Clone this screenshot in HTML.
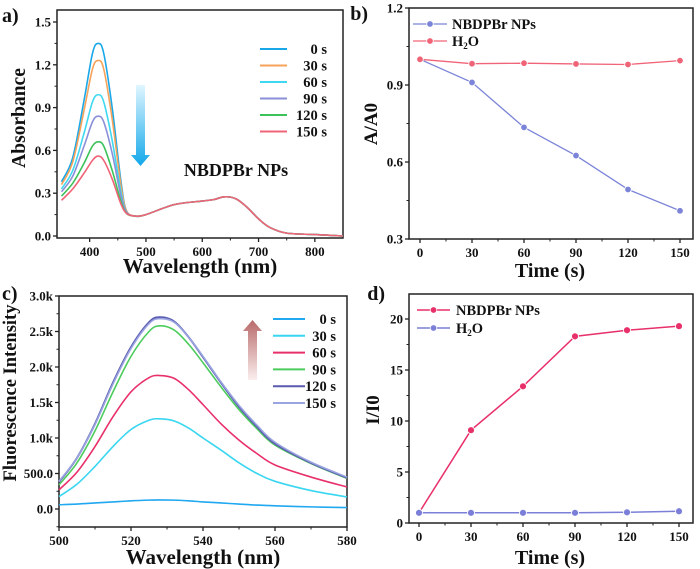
<!DOCTYPE html>
<html><head><meta charset="utf-8"><style>
body{margin:0;background:#fff}
svg{display:block;font-family:"Liberation Serif",serif;font-weight:bold}
</style></head><body>
<svg id="fig" width="700" height="569" viewBox="0 0 700 569"></svg>
<script>
// ---- Panel a data ----
const aWl = [350,370,390,405,415,425,440,455,465,480,500,550,600,620,640,660,680,700,720,750,800,850];
const aTail = [0.14,0.15,0.22,0.245,0.255,0.275,0.26,0.20,0.12,0.06,0.02,0.01,0.00];
const aLabels = ['0 s','30 s','60 s','90 s','120 s','150 s'];
const aColors = ['#1aa7e8','#f5a35a','#3fd8f0','#8a8fd8','#3dc25a','#f06478'];
const aHead0 = [0.38,0.55,0.95,1.28,1.35,1.28,0.90,0.40,0.18];
const aHead30 = [0.36,0.52,0.88,1.17,1.23,1.17,0.82,0.37,0.18];
const aHead60 = [0.33,0.46,0.72,0.94,0.99,0.94,0.67,0.32,0.17];
const aHead90 = [0.31,0.42,0.63,0.80,0.84,0.80,0.58,0.29,0.17];
const aHead120 = [0.28,0.37,0.51,0.63,0.66,0.63,0.46,0.25,0.16];
const aHead150 = [0.25,0.33,0.44,0.53,0.56,0.53,0.40,0.23,0.16];
// ---- Panel b data ----
const bTime = [0,30,60,90,120,150];
const bNP = [1.0,0.91,0.735,0.625,0.493,0.41];
const bH2O = [1.0,0.983,0.985,0.982,0.98,0.995];
// ---- Panel c data ----
const cWl = [500,505,510,515,520,525,528,532,536,540,545,550,555,560,570,580];
const cLabels = ['0 s','30 s','60 s','90 s','120 s','150 s'];
const cColors = ['#20a8f0','#38d6f0','#e8306a','#4ccc5c','#5a5ab0','#9aa4e0'];
const c0 = [60,70,85,100,115,125,128,125,115,100,85,70,55,45,30,20];
const c30 = [175,350,600,880,1120,1250,1270,1240,1140,1000,830,650,500,390,260,170];
const c60 = [270,520,880,1300,1650,1850,1880,1840,1680,1470,1200,970,780,620,450,310];
const c90 = [340,650,1100,1650,2150,2500,2580,2520,2320,2060,1720,1400,1130,900,640,430];
const c120 = [380,720,1200,1780,2280,2630,2700,2640,2420,2140,1780,1440,1160,920,650,440];
const c150 = [390,720,1190,1760,2260,2610,2680,2630,2420,2150,1790,1460,1180,940,660,450];
// ---- Panel d data ----
const dTime = [0,30,60,90,120,150];
const dNP = [1,9.1,13.4,18.3,18.9,19.3];
const dH2O = [1,1,1,1,1.05,1.15];
const aTicksY=[0,0.3,0.6,0.9,1.2,1.5], aTickYL=['0.0','0.3','0.6','0.9','1.2','1.5'];
const aTicksX=[400,500,600,700,800];
const bTicksY=[0.3,0.6,0.9,1.2], bTickYL=['0.3','0.6','0.9','1.2'];
const tTicks=[0,30,60,90,120,150];
const cTicksY=[0,500,1000,1500,2000,2500,3000], cTickYL=['0.0','500.0','1.0k','1.5k','2.0k','2.5k','3.0k'];
const cTicksX=[500,520,540,560,580];
const dTicksY=[0,5,10,15,20];

const NS='http://www.w3.org/2000/svg', svg=document.getElementById('fig');
function el(t,a,p){const e=document.createElementNS(NS,t);for(const k in a)e.setAttribute(k,a[k]);(p||svg).appendChild(e);return e;}
function txt(x,y,s,size,anchor,p,name){const e=el('text',{x,y,'font-size':size,'text-anchor':anchor||'middle',fill:'#111'},p);e.textContent=s;

return e;}
function lin(d0,d1,r0,r1){return v=>r0+(v-d0)/(d1-d0)*(r1-r0);}
function smooth(pts){let d='M'+pts[0][0]+','+pts[0][1];for(let i=0;i<pts.length-1;i++){const p0=pts[i-1]||pts[i],p1=pts[i],p2=pts[i+1],p3=pts[i+2]||p2;
d+=' C'+(p1[0]+(p2[0]-p0[0])/6)+','+(p1[1]+(p2[1]-p0[1])/6)+' '+(p2[0]-(p3[0]-p1[0])/6)+','+(p2[1]-(p3[1]-p1[1])/6)+' '+p2[0]+','+p2[1];}return d;}
function frame(name,L,T,R,B,sx,sy,xt,xtl,yt,ytl,minorX,minorY){
  const g=el('g',{});
  el('rect',{x:L,y:T,width:R-L,height:B-T,fill:'none',stroke:'#222','stroke-width':1.5},g);
  xt.forEach((v,i)=>{el('line',{x1:sx(v),x2:sx(v),y1:B,y2:B+4,stroke:'#222','stroke-width':1.3},g);txt(sx(v),B+18,xtl[i],13,'middle',g,'x-tick-label');});
  minorX.forEach(v=>el('line',{x1:sx(v),x2:sx(v),y1:B,y2:B+2.5,stroke:'#222'},g));
  yt.forEach((v,i)=>{el('line',{x1:L,x2:L-4,y1:sy(v),y2:sy(v),stroke:'#222','stroke-width':1.3},g);txt(L-6,sy(v)+4.5,ytl[i],13,'end',g,'y-tick-label');});
  minorY.forEach(v=>el('line',{x1:L,x2:L-2.5,y1:sy(v),y2:sy(v),stroke:'#222'},g));
  return g;}
function vtitle(x,y,s,size,name){const e=txt(x,y,s,size,'middle',svg,name);e.setAttribute('transform','rotate(-90 '+x+' '+y+')');return e;}
function legLine(g,x1,x2,y,c,w,lab,lx,anchor,marker){el('line',{x1,x2,y1:y,y2:y,stroke:c,'stroke-width':w},g);
 if(marker)el('circle',{cx:(x1+x2)/2,cy:y,r:3.3,fill:c,stroke:'#fff','stroke-width':0.8},g);
 txt(lx,y+5,lab,14.5,anchor,g,'legend-label');}

// ===== Panel a =====
{const sx=lin(342,850,57,343), sy=lin(0,1.5,236,22);
 const g=frame('panel-a',57,10,343,238,sx,sy,aTicksX,aTicksX.map(String),aTicksY,aTickYL,[450,550,650,750],[0.15,0.45,0.75,1.05,1.35]);
 const heads=[aHead0,aHead30,aHead60,aHead90,aHead120,aHead150];
 const clip=el('clipPath',{id:'ca'});el('rect',{x:57,y:10,width:286,height:228},clip);
 heads.forEach((h,i)=>{const vals=h.concat(aTail);const p=el('path',{d:smooth(aWl.map((w,j)=>[sx(w),sy(vals[j])])),fill:'none',stroke:aColors[i],'stroke-width':1.6,'clip-path':'url(#ca)'},g);
  
  
  legLine(g,260,287,49+i*16.5,aColors[i],2,aLabels[i],327,'end');});
 const df=el('defs',{});const lg=el('linearGradient',{id:'ga',x1:0,y1:0,x2:0,y2:1},df);
 el('stop',{offset:0,'stop-color':'#e0f6ff'},lg);el('stop',{offset:1,'stop-color':'#12a8ea'},lg);
 const ar=el('path',{d:'M136,85 H145 V155 H150 L140.5,166 L131,155 H136 Z',fill:'url(#ga)'},g);
 
 
 txt(236,176,'NBDPBr NPs',18,'middle',g,'sample-annotation');
 txt(2,22,'a)',20,'start',svg,'panel-label-a');
 txt(200,273,'Wavelength (nm)',21,'middle',svg,'x-axis-title-a');
 vtitle(25,118,'Absorbance',19.5,'y-axis-title-a');}

// ===== Panel b =====
{const sx=lin(0,150,420,680), sy=lin(0.3,1.2,239,8);
 const g=frame('panel-b',409,8,693,239,sx,sy,tTicks,tTicks.map(String),bTicksY,bTickYL,[15,45,75,105,135],[0.45,0.75,1.05]);
 [[bNP,'#7b84d8','np'],[bH2O,'#f06478','h2o']].forEach(([arr,c,n])=>{
  const p=el('polyline',{points:bTime.map((t,i)=>sx(t)+','+sy(arr[i])).join(' '),fill:'none',stroke:c,'stroke-width':1.3},g);
  
  
  bTime.forEach((t,i)=>{const m=el('circle',{cx:sx(t),cy:sy(arr[i]),r:3.3,fill:c,stroke:'#fff','stroke-width':0.8},g);
   
   });});
 legLine(g,413,447,24,'#7b84d8',1.3,'NBDPBr NPs',452,'start',true);
 legLine(g,413,447,41,'#f06478',1.3,'',452,'start',true);
 const h=txt(452,46,'H',14.5,'start',g,'legend-label-h2o');const ts=el('tspan',{'font-size':9,dy:3},h);ts.textContent='2';const t2=el('tspan',{dy:-3},h);t2.textContent='O';
 txt(368,20,'b)',20,'end',svg,'panel-label-b');
 txt(550,277,'Time (s)',20,'middle',svg,'x-axis-title-b');
 vtitle(377,124,'A/A0',19,'y-axis-title-b');}

// ===== Panel c =====
{const sx=lin(500,580,59,347), sy=lin(0,3000,509,296);
 const g=frame('panel-c',59,296,347,527,sx,sy,cTicksX,cTicksX.map(String),cTicksY,cTickYL,[510,530,550,570],[250,750,1250,1750,2250,2750,-250]);
 [c0,c30,c60,c90,c120,c150].forEach((arr,i)=>{const p=el('path',{d:smooth(cWl.map((w,j)=>[sx(w),sy(arr[j])])),fill:'none',stroke:cColors[i],'stroke-width':i==4?2:1.6},g);
  
  
  legLine(g,273,305,319+i*16.8,cColors[i],2,cLabels[i],336,'end');});
 const df=el('defs',{});const lg=el('linearGradient',{id:'gc',x1:0,y1:1,x2:0,y2:0},df);
 el('stop',{offset:0,'stop-color':'#fbeeee'},lg);el('stop',{offset:1,'stop-color':'#b86a6a'},lg);
 const ar=el('path',{d:'M248,380 V331 H243 L252.5,320 L262,331 H257 V380 Z',fill:'url(#gc)'},g);
 
 
 txt(2,300,'c)',20,'start',svg,'panel-label-c');
 txt(203,564,'Wavelength (nm)',21,'middle',svg,'x-axis-title-c');
 vtitle(16,393,'Fluorescence Intensity',18.5,'y-axis-title-c');}

// ===== Panel d =====
{const sx=lin(0,150,419,679), sy=lin(0,20,523,319);
 const g=frame('panel-d',409,294,693,523,sx,sy,tTicks,tTicks.map(String),dTicksY,dTicksY.map(String),[15,45,75,105,135],[2.5,7.5,12.5,17.5]);
 [[dNP,'#e8306a','np'],[dH2O,'#7b7fd8','h2o']].forEach(([arr,c,n])=>{
  const p=el('polyline',{points:dTime.map((t,i)=>sx(t)+','+sy(arr[i])).join(' '),fill:'none',stroke:c,'stroke-width':1.5},g);
  
  
  dTime.forEach((t,i)=>{const m=el('circle',{cx:sx(t),cy:sy(arr[i]),r:3.5,fill:c,stroke:'#fff','stroke-width':0.8},g);
   
   });});
 legLine(g,417,450,310,'#e8306a',1.5,'NBDPBr NPs',456,'start',true);
 legLine(g,417,450,328,'#7b7fd8',1.5,'',456,'start',true);
 const h=txt(456,333,'H',14.5,'start',g,'legend-label-h2o');const ts=el('tspan',{'font-size':9,dy:3},h);ts.textContent='2';const t2=el('tspan',{dy:-3},h);t2.textContent='O';
 txt(385,300,'d)',20,'end',svg,'panel-label-d');
 txt(550,564,'Time (s)',20,'middle',svg,'x-axis-title-d');
 vtitle(379,410,'I/I0',19,'y-axis-title-d');}
</script>
</body></html>
